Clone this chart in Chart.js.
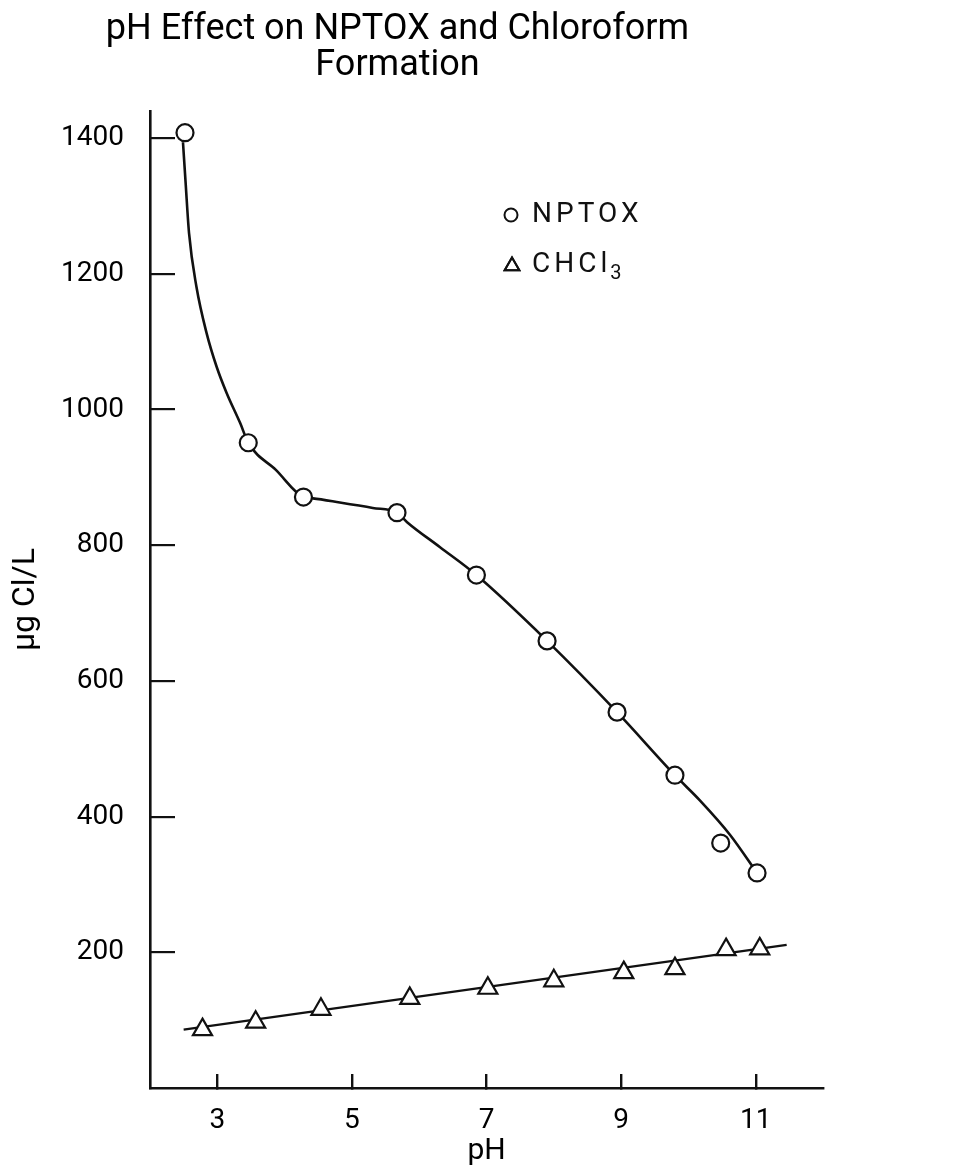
<!DOCTYPE html>
<html><head><meta charset="utf-8">
<script src="https://cdn.jsdelivr.net/npm/chart.js@4.4.1/dist/chart.umd.min.js"></script>
<style>html,body{margin:0;padding:0;background:#fff}canvas{display:block}</style>
</head><body>
<canvas id="c" width="968" height="1172"></canvas>
<script>
// ---- data ----
const titleLines = ['pH Effect on NPTOX and Chloroform', 'Formation'];
const xAxisTitle = 'pH';
const yAxisTitle = 'μg Cl/L';
const xTickValues = [3, 5, 7, 9, 11];
const yTickValues = [200, 400, 600, 800, 1000, 1200, 1400];

const nptoxPh     = [2.52, 3.46, 4.28, 5.67, 6.85, 7.90, 8.94, 9.80, 10.48, 11.02];
const nptoxValues = [1408, 951, 871, 848, 756, 659, 554, 461, 361, 317];

// hand-drawn smooth curve through the NPTOX data
const nptoxCurvePh     = [2.49, 2.53, 2.58, 2.69, 2.84, 2.99, 3.14, 3.34, 3.46, 3.87, 4.28, 4.42, 4.82, 5.31, 5.67, 5.82, 6.31, 6.85, 7.90, 8.94, 9.80, 10.17, 10.62, 11.02];
const nptoxCurveValues = [1394, 1333, 1260, 1181, 1113, 1063, 1024, 980, 951, 911, 871, 869, 863, 855, 848, 834, 797, 756, 659, 554, 461, 424, 373, 317];

const chcl3Ph     = [2.78, 3.57, 4.54, 5.86, 7.02, 8.00, 9.04, 9.80, 10.56, 11.06];
const chcl3Values = [86, 97, 116, 132, 147, 158, 170, 176, 204, 205];

// straight fitted line through the CHCl3 data, end points
const chcl3FitPh     = [2.50, 11.46];
const chcl3FitValues = [86, 211];

const legendLabels = ['NPTOX', 'CHCl\u2083'];

// ---- helpers ----
const pts = (xs, ys) => xs.map((x, i) => ({x: x, y: ys[i]}));
const FONT = "Roboto, 'DejaVu Sans', sans-serif";
const INK = '#111';

const insideLegend = {
  id: 'insideLegend',
  afterDraw(chart) {
    const ctx = chart.ctx;
    const a = chart.chartArea;
    const mx = a.left + 361, tx = a.left + 382;
    const rows = [a.top + 104, a.top + 154];
    ctx.save();
    ctx.strokeStyle = INK;
    ctx.fillStyle = '#fff';
    ctx.lineWidth = 2;
    ctx.beginPath();
    ctx.arc(mx, rows[0], 6.5, 0, Math.PI * 2);
    ctx.fill(); ctx.stroke();
    Chart.helpers.drawPoint(ctx, {pointStyle: 'triangle', radius: 8.5, borderWidth: 2, rotation: 0}, mx + 1, rows[1] + 1);
    ctx.stroke();
    ctx.fillStyle = INK;
    ctx.textAlign = 'left';
    ctx.textBaseline = 'middle';
    try { ctx.letterSpacing = '4px'; } catch (e) {}
    ctx.font = "28px " + FONT;
    ctx.fillText(legendLabels[0], tx, rows[0]);
    // CHCl3 with a real subscript 3
    const base = legendLabels[1].slice(0, -1);
    ctx.fillText(base, tx, rows[1]);
    const w = ctx.measureText(base).width;
    ctx.font = "20px " + FONT;
    try { ctx.letterSpacing = '0px'; } catch (e) {}
    ctx.fillText('3', tx + w - 1, rows[1] + 9);
    ctx.restore();
  }
};

new Chart(document.getElementById('c'), {
  type: 'scatter',
  data: {
    datasets: [
      {
        label: legendLabels[0],
        data: pts(nptoxPh, nptoxValues),
        pointStyle: 'circle',
        pointRadius: 8.5,
        pointBorderWidth: 2.2,
        pointBackgroundColor: '#fff',
        pointBorderColor: INK,
        showLine: false,
        order: 0
      },
      {
        label: legendLabels[1],
        data: pts(chcl3Ph, chcl3Values),
        pointStyle: 'triangle',
        pointRadius: 11,
        pointBorderWidth: 2.2,
        pointBackgroundColor: '#fff',
        pointBorderColor: INK,
        showLine: false,
        order: 0
      },
      {
        label: 'NPTOX curve',
        data: pts(nptoxCurvePh, nptoxCurveValues),
        showLine: true,
        pointRadius: 0,
        borderColor: INK,
        borderWidth: 2.6,
        cubicInterpolationMode: 'monotone',
        fill: false,
        order: 1
      },
      {
        label: 'CHCl3 fit',
        data: pts(chcl3FitPh, chcl3FitValues),
        showLine: true,
        pointRadius: 0,
        borderColor: INK,
        borderWidth: 2.4,
        tension: 0,
        fill: false,
        order: 1
      }
    ]
  },
  options: {
    responsive: false,
    animation: false,
    devicePixelRatio: 1,
    layout: {padding: {left: -28, right: 145, top: 0, bottom: 0}},
    plugins: {
      legend: {display: false},
      tooltip: {enabled: false},
      title: {
        display: true,
        text: titleLines,
        color: '#000',
        font: {family: FONT, size: 36, weight: 'normal', lineHeight: 1.0},
        padding: {top: 12, bottom: 27}
      }
    },
    scales: {
      x: {
        type: 'linear',
        min: 2,
        max: 12,
        afterBuildTicks: s => { s.ticks = xTickValues.map(v => ({value: v})); },
        afterFit: s => { s.height = 84; },
        border: {display: true, color: INK, width: 2.6},
        grid: {display: true, drawOnChartArea: false, drawTicks: true, tickLength: -14, color: INK, lineWidth: 2.4},
        ticks: {color: '#000', font: {family: FONT, size: 28}, padding: 30, maxRotation: 0, callback: v => String(v)},
        title: {display: true, text: xAxisTitle, color: '#000', font: {family: FONT, size: 30}, padding: {top: 0, bottom: 3}}
      },
      y: {
        type: 'linear',
        min: 0,
        max: 1440,
        afterBuildTicks: s => { s.ticks = yTickValues.map(v => ({value: v})); },
        afterFit: s => { s.width = 178; },
        border: {display: true, color: INK, width: 2.6},
        grid: {display: true, drawOnChartArea: false, drawTicks: true, tickLength: -25, color: INK, lineWidth: 2.2},
        ticks: {color: '#000', font: {family: FONT, size: 28}, padding: 51, callback: v => String(v)},
        title: {display: true, text: yAxisTitle, color: '#000', font: {family: FONT, size: 32}, padding: {top: 35, bottom: 0}}
      }
    }
  },
  plugins: [insideLegend]
});
</script>
</body></html>
